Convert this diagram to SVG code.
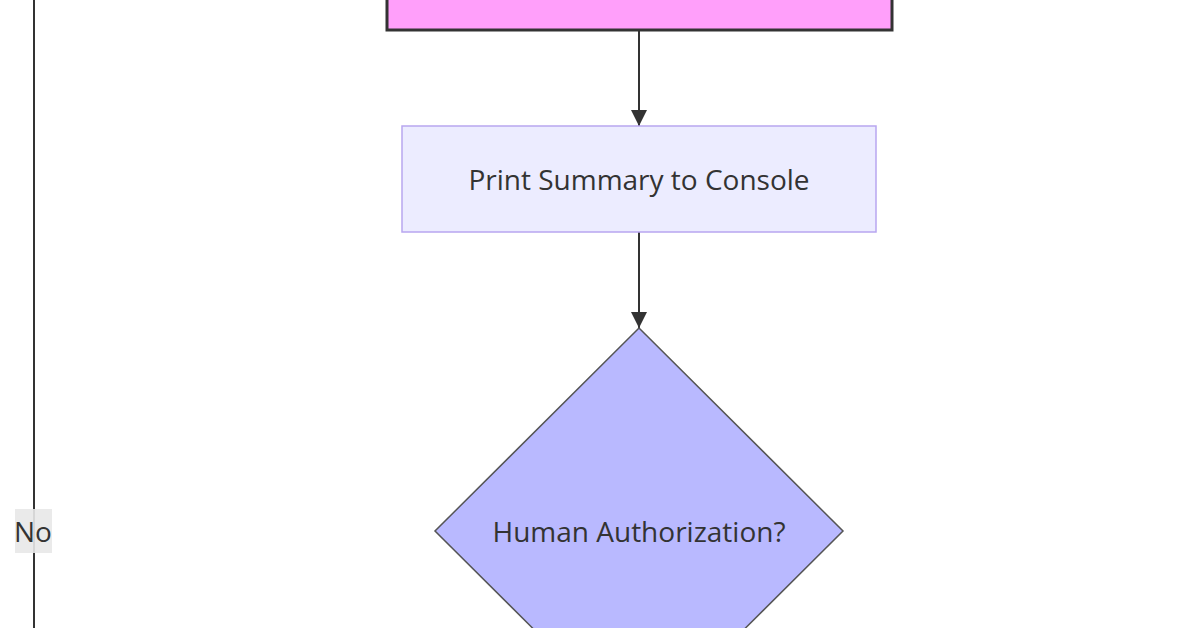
<svg xmlns="http://www.w3.org/2000/svg" width="1200" height="628" viewBox="0 0 1200 628">
<style>
text{font-family:"Open Sans","DejaVu Sans",sans-serif;font-size:28px;fill:#333;text-anchor:middle;dominant-baseline:central}
.edge{stroke:#333;stroke-width:2;fill:none}
</style>
<defs><marker id="ah" viewBox="0 0 10 10" refX="10" refY="5" markerWidth="8" markerHeight="8" markerUnits="userSpaceOnUse" orient="auto"><path d="M0,0L10,5L0,10z" fill="#333"/></marker>
<marker id="ah2" viewBox="0 0 10 10" refX="10" refY="5" markerWidth="16" markerHeight="16" markerUnits="userSpaceOnUse" orient="auto"><path d="M0,0L10,5L0,10z" fill="#333"/></marker></defs>
<rect width="1200" height="628" fill="#fff"/>
<g id="connectors">
<path class="edge" d="M639,31V126" marker-end="url(#ah2)"/>
<path class="edge" d="M639,232V328" marker-end="url(#ah2)"/>
<path class="edge" d="M34,0V628"/>
<rect x="15" y="509" width="37" height="44" fill="#e8e8e8" opacity="0.9"/>
<text x="33" y="531">No</text>
</g>
<g id="prev"><rect x="387" y="-10" width="505" height="40" fill="#ff9ffa" stroke="#333" stroke-width="3"/></g>
<g id="print"><rect x="402" y="126" width="474" height="106" fill="#ececff" stroke="#b8a6f0" stroke-width="1.5"/><text x="639" y="179">Print Summary to Console</text></g>
<g id="auth"><polygon points="639,328 843,531 639,734 435,531" fill="#b9b9ff" stroke="#555" stroke-width="1.5"/><text x="639" y="531">Human Authorization?</text></g>
</svg>
